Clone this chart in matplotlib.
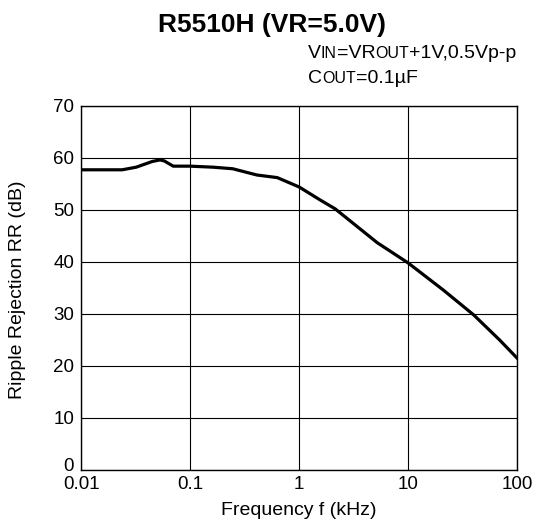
import matplotlib
matplotlib.use("Agg")
import matplotlib.pyplot as plt
import matplotlib.transforms as mtransforms
from matplotlib.offsetbox import TextArea, HPacker, VPacker, AnchoredOffsetbox

plt.rcParams["font.family"] = ["Liberation Sans", "DejaVu Sans"]

# curve (kHz, dB)
freq = [0.01, 0.0238, 0.032, 0.045, 0.053, 0.058, 0.07, 0.1, 0.163, 0.246,
        0.41, 0.63, 1.0, 1.56, 2.14, 5.2, 10, 21, 40, 69, 100]
rr = [57.7, 57.7, 58.2, 59.3, 59.6, 59.4, 58.4, 58.4, 58.2, 57.9,
      56.7, 56.2, 54.4, 51.9, 50.2, 43.7, 39.8, 34.6, 29.8, 25.0, 21.5]

xticks = [0.01, 0.1, 1, 10, 100]
xticklabels = ["0.01", "0.1", "1", "10", "100"]
yticks = [0, 10, 20, 30, 40, 50, 60, 70]

fig = plt.figure(figsize=(5.37, 5.29), dpi=100)
ax = fig.add_axes([0.151, 0.1115, 0.812, 0.6885])

ax.plot(freq, rr, color="black", linewidth=2.3, solid_joinstyle="round")
ax.set_xscale("log")
ax.set_xlim(0.01, 100)
ax.set_ylim(0, 70)
ax.set_xticks(xticks)
ax.set_xticklabels(xticklabels)
ax.minorticks_off()
ax.set_yticks(yticks)
ax.tick_params(length=0, labelsize=13.5)
ax.tick_params(axis="x", pad=4)
ax.tick_params(axis="y", pad=5)
ax.grid(True, color="black", linewidth=0.8)
for s in ax.spines.values():
    s.set_linewidth(1.0)

# the "0" label sits a little above the bottom axis
lab0 = ax.get_yticklabels()[0]
lab0.set_transform(lab0.get_transform() +
                   mtransforms.ScaledTranslation(0, 4 / 72, fig.dpi_scale_trans))

ax.set_xlabel("Frequency f (kHz)", fontsize=14, va="center")
ax.set_ylabel("Ripple Rejection RR (dB)", fontsize=14, va="center")
ax.xaxis.set_label_coords(0.5, -0.11)
ax.yaxis.set_label_coords(-0.145, 0.495)

fig.text(272 / 537, 1 - 32 / 529, "R5510H (VR=5.0V)", fontsize=19,
         fontweight="bold", ha="center", va="baseline")

# condition notes with small caps
big, small = 14, 11.5
def row(parts):
    boxes = [TextArea(t, textprops=dict(fontsize=big if b else small)) for t, b in parts]
    return HPacker(children=boxes, align="baseline", pad=0, sep=0)

line1 = row([("V", True), ("IN", False), ("=VR", True), ("OUT", False), ("+1V,0.5Vp-p", True)])
line2 = row([("C", True), ("OUT", False), ("=0.1\u00b5F", True)])
notes = VPacker(children=[line1, line2], align="left", pad=0, sep=6)
anch = AnchoredOffsetbox(loc="upper left", child=notes, pad=0, frameon=False,
                         bbox_to_anchor=(308 / 537, 1 - 45 / 529),
                         bbox_transform=fig.transFigure, borderpad=0)
fig.add_artist(anch)

fig.savefig("out.png", dpi=100)
